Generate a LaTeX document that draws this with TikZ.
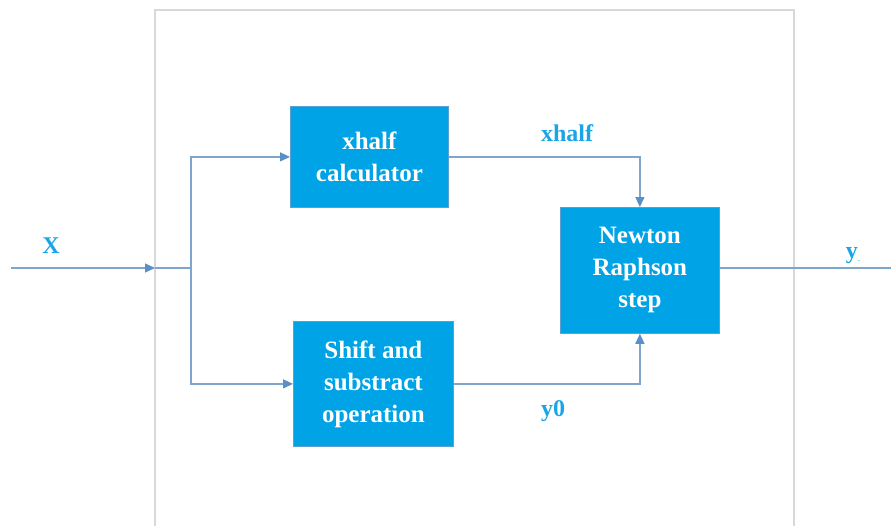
\documentclass[tikz,border=0pt]{standalone}
\usepackage{fontspec}
\setmainfont{Liberation Serif}
\usetikzlibrary{arrows.meta}
\definecolor{boxblue}{HTML}{00A3E6}
\definecolor{boxedge}{HTML}{5C9FD2}
\definecolor{wire}{HTML}{7EA6CC}
\definecolor{tip}{HTML}{5A8FC8}
\definecolor{labelblue}{HTML}{1AA6E6}
\definecolor{frame}{HTML}{D6D8DE}
\tikzset{
  block/.style={draw=boxedge, line width=0.8pt, fill=boxblue, text=white,
    font=\bfseries\fontsize{25}{32}\selectfont, align=center, inner sep=0pt, anchor=north west},
  wireline/.style={draw=wire, line width=1.2pt},
  arr/.style={wireline, -{Triangle[length=10pt,width=9pt,color=tip]}},
  sig/.style={text=labelblue, font=\bfseries\fontsize{24}{28}\selectfont, inner sep=0pt}
}
\begin{document}
\begin{tikzpicture}[x=1pt,y=-1pt]
\useasboundingbox (0,0) rectangle (891,525);
% outer frame, open at the bottom
\draw[frame, line width=1.2pt] (155,530) -- (155,10) -- (794,10) -- (794,530);

% blocks
\node[block, minimum width=158pt, minimum height=101pt] (xh) at (290,106) {xhalf\\calculator};
\node[block, minimum width=160pt, minimum height=125pt] (ss) at (293,321) {Shift and\\substract\\operation};
\node[block, minimum width=159pt, minimum height=126pt] (nr) at (560,207) {Newton\\Raphson\\step};

% junction points
\coordinate (in) at (11,268);
\coordinate (inend) at (155,268);
\coordinate (split) at (191,268);
\coordinate (out) at (891,268);

% input and split
\draw[arr] (in) -- (inend);
\draw[wireline] (inend) -- (split);
\draw[arr] (split) |- (xh.west);
\draw[arr] (split) |- (ss.west);

% to Newton Raphson
\draw[arr] (xh.east) -| (nr.north);
\draw[arr] (ss.east) -| (nr.south);

% output
\draw[wireline] (nr.east |- out) -- (out);

% signal labels
\node[sig] (lx) at (51,246) {X};
\node[sig] (lxh) at (567,133) {xhalf};
\node[sig] (ly0) at (553,411) {y0};
\node[sig] (ly) at (853,256) {y\textsubscript{\fontsize{6}{6}\selectfont -}};
\end{tikzpicture}
\end{document}
